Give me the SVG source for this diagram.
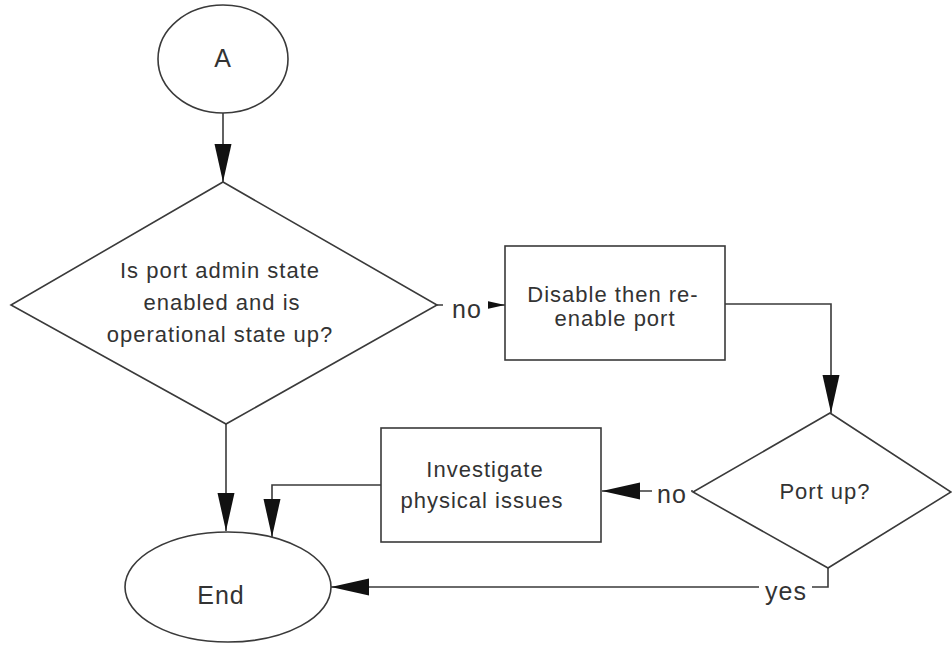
<svg xmlns="http://www.w3.org/2000/svg" width="952" height="646" viewBox="0 0 952 646">
  <style>
    .shape { fill: #ffffff; stroke: #3a3a3a; stroke-width: 1.6; }
    .conn { fill: none; stroke: #3a3a3a; stroke-width: 1.6; }
    .txt { font-family: "Liberation Sans", Arial, sans-serif; font-size: 22px; letter-spacing: 1px; fill: #333333; text-anchor: middle; }
    .big { font-size: 25px; }
    .lbl { font-family: "Liberation Sans", Arial, sans-serif; font-size: 25px; letter-spacing: 1px; fill: #333333; text-anchor: middle; }
    .lblbg { fill: #ffffff; stroke: none; }
  </style>
  <defs>
    <marker id="arrow" markerUnits="userSpaceOnUse" markerWidth="38" markerHeight="18" refX="38" refY="8.5" orient="auto">
      <path d="M0,0 L38,8.5 L0,17 Z" fill="#111111"/>
    </marker>
  </defs>

  <rect width="952" height="646" fill="#ffffff"/>

  <!-- connectors -->
  <g id="connectors">
    <path class="conn" d="M223,113 L223,182" marker-end="url(#arrow)"/>
    <path class="conn" d="M437,305 L505,305" marker-end="url(#arrow)"/>
    <path class="conn" d="M725,304 L831,304 L831,413" marker-end="url(#arrow)"/>
    <path class="conn" d="M693,491 L602,491" marker-end="url(#arrow)"/>
    <path class="conn" d="M381,485 L272,485 L272,537" marker-end="url(#arrow)"/>
    <path class="conn" d="M226,424 L226,531" marker-end="url(#arrow)"/>
    <path class="conn" d="M828,568 L828,587 L331,587" marker-end="url(#arrow)"/>
  </g>

  <!-- branch labels -->
  <g id="labels">
    <rect class="lblbg" x="443" y="292" width="45" height="28"/>
    <text class="lbl" x="467" y="318">no</text>
    <rect class="lblbg" x="652" y="478" width="39" height="28"/>
    <text class="lbl" x="672" y="503">no</text>
    <rect class="lblbg" x="759" y="575" width="53" height="30"/>
    <text class="lbl" x="786" y="600">yes</text>
  </g>

  <g id="start">
    <ellipse class="shape" cx="223" cy="59" rx="65" ry="54"/>
    <text class="txt big" x="223" y="67">A</text>
  </g>

  <g id="check-port-state">
    <polygon class="shape" points="223,182 437,305 226,424 11,305"/>
    <text class="txt" x="220" y="278">Is port admin state</text>
    <text class="txt" x="222" y="310">enabled and is</text>
    <text class="txt" x="220" y="342">operational state up?</text>
  </g>

  <g id="reenable-port">
    <rect class="shape" x="505" y="246" width="220" height="114"/>
    <text class="txt" x="613" y="302">Disable then re-</text>
    <text class="txt" x="615" y="326">enable port</text>
  </g>

  <g id="port-up">
    <polygon class="shape" points="830,413 951,492 828,568 693,492"/>
    <text class="txt" x="825" y="499">Port up?</text>
  </g>

  <g id="investigate">
    <rect class="shape" x="381" y="428" width="220" height="114"/>
    <text class="txt" x="485" y="477">Investigate</text>
    <text class="txt" x="482" y="508">physical issues</text>
  </g>

  <g id="end">
    <ellipse class="shape" cx="228" cy="587" rx="103" ry="55"/>
    <text class="txt big" x="221" y="604">End</text>
  </g>
</svg>
